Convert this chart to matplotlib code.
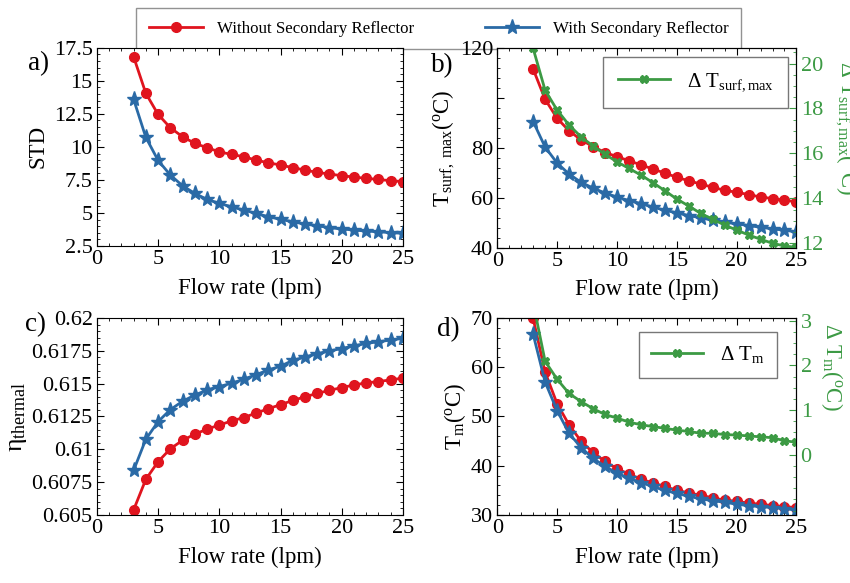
import matplotlib
matplotlib.use('Agg')
import matplotlib.pyplot as plt
from matplotlib.ticker import AutoMinorLocator, MultipleLocator

plt.rcParams['font.family'] = ['Liberation Serif', 'DejaVu Serif']
plt.rcParams['mathtext.fontset'] = 'custom'
plt.rcParams['mathtext.rm'] = 'Liberation Serif'
plt.rcParams['mathtext.it'] = 'Liberation Serif:italic'

# flow rate (lpm)
flow = list(range(3, 26))

# a) STD
std_without = [16.82, 14.05, 12.46, 11.45, 10.77, 10.27, 9.94, 9.63, 9.43, 9.26, 9.0, 8.8,
               8.63, 8.43, 8.25, 8.07, 7.95, 7.82, 7.72, 7.62, 7.54, 7.44, 7.37]
std_with = [13.6, 10.72, 8.98, 7.87, 7.06, 6.48, 6.03, 5.73, 5.47, 5.22, 4.97, 4.72,
            4.52, 4.34, 4.16, 4.04, 3.89, 3.79, 3.71, 3.63, 3.58, 3.51, 3.46]

# b) max surface temperature
tsurf_without = [111.5, 99.4, 91.8, 86.8, 83.2, 80.5, 78.1, 76.5, 74.8, 73.2, 71.5, 69.9,
                 68.2, 66.8, 65.5, 64.2, 63.0, 62.2, 61.3, 60.3, 59.7, 59.0, 58.4]
tsurf_with = [90.5, 80.3, 73.9, 69.5, 66.2, 63.9, 61.9, 60.3, 58.9, 57.7, 56.3, 55.0,
              54.0, 52.9, 52.0, 51.0, 50.2, 49.6, 48.9, 48.2, 47.6, 47.0, 46.4]
dtsurf = [20.67, 18.81, 17.93, 17.26, 16.74, 16.33, 15.96, 15.63, 15.33, 15.04, 14.7, 14.34,
          13.97, 13.66, 13.33, 13.07, 12.81, 12.59, 12.37, 12.18, 12.0, 11.88, 11.82]

# c) thermal efficiency
eta_without = [0.60539, 0.60772, 0.60906, 0.61004, 0.61069, 0.61115, 0.61154, 0.61185,
               0.61216, 0.61242, 0.61276, 0.61309, 0.61340, 0.61372, 0.61400, 0.61426,
               0.61449, 0.61470, 0.61490, 0.61506, 0.61516, 0.61529, 0.61542]
eta_with = [0.6084, 0.61077, 0.61211, 0.61302, 0.61366, 0.61413, 0.61452, 0.61478,
            0.61503, 0.61534, 0.61568, 0.61604, 0.61633, 0.61677, 0.61703, 0.61728,
            0.61749, 0.61767, 0.61788, 0.61806, 0.61819, 0.61832, 0.61845]

# d) mean temperature
tm_without = [69.9, 59.0, 52.6, 48.3, 45.0, 42.7, 40.9, 39.4, 38.3, 37.3, 36.5, 35.8,
              35.0, 34.5, 34.0, 33.5, 33.0, 32.8, 32.4, 32.2, 31.9, 31.7, 31.5]
tm_with = [66.7, 57.0, 51.2, 46.6, 43.7, 41.5, 39.9, 38.5, 37.5, 36.6, 35.8, 35.0,
           34.4, 33.8, 33.3, 32.9, 32.6, 32.2, 31.9, 31.7, 31.5, 31.3, 31.0]
dtm = [3.4, 2.09, 1.69, 1.37, 1.19, 1.03, 0.90, 0.82, 0.73, 0.67, 0.63, 0.59,
       0.55, 0.52, 0.48, 0.48, 0.45, 0.44, 0.42, 0.40, 0.38, 0.31, 0.28]

red = '#e0141e'
blue = '#2a6aa6'
green = '#3c9a44'
fs = 16.5
tfs = 16

fig = plt.figure(figsize=(8.5, 5.83), dpi=100)
ax_a = fig.add_axes([0.114, 0.578, 0.360, 0.340])
ax_b = fig.add_axes([0.585, 0.575, 0.352, 0.343])
ax_c = fig.add_axes([0.114, 0.1166, 0.360, 0.338])
ax_d = fig.add_axes([0.585, 0.1166, 0.352, 0.338])


def style(ax):
    ax.set_xlim(0, 25)
    ax.xaxis.set_major_locator(MultipleLocator(5))
    ax.xaxis.set_minor_locator(AutoMinorLocator(5))
    ax.yaxis.set_minor_locator(AutoMinorLocator(5))
    ax.tick_params(which='both', direction='in', top=True, right=True, labelsize=tfs, pad=3)
    ax.tick_params(which='major', length=5)
    ax.tick_params(which='minor', length=2.5)
    ax.set_xlabel('Flow rate (lpm)', fontsize=fs, labelpad=6)


def pair(ax, y1, y2):
    l1, = ax.plot(flow, y1, '-o', color=red, lw=2, ms=7, mec=red,
                  label='Without Secondary Reflector')
    l2, = ax.plot(flow, y2, '-*', color=blue, lw=2, ms=11, mec=blue,
                  label='With Secondary Reflector')
    return l1, l2


def right_axis(ax2, lo, hi, ticks):
    ax2.set_ylim(lo, hi)
    ax2.set_yticks(ticks)
    ax2.yaxis.set_minor_locator(AutoMinorLocator(4))
    ax2.tick_params(which='both', direction='in', colors=green, labelsize=tfs, pad=3)
    ax2.tick_params(which='major', length=5)
    ax2.tick_params(which='minor', length=2.5)


# a
h1, h2 = pair(ax_a, std_without, std_with)
style(ax_a)
ax_a.set_ylim(2.5, 17.5)
ax_a.set_yticks([2.5, 5, 7.5, 10, 12.5, 15, 17.5])
ax_a.set_yticklabels(['2.5', '5', '7.5', '10', '12.5', '15', '17.5'])
ax_a.set_ylabel('STD', fontsize=fs)

# b
pair(ax_b, tsurf_without, tsurf_with)
style(ax_b)
ax_b.tick_params(which='both', right=False)
ax_b.set_ylim(40, 120)
ax_b.set_yticks([40, 60, 80, 100, 120])
ax_b.set_yticklabels(['40', '60', '80', '', '120'])
ax_b.set_ylabel(r'T$_{\rm surf,\ max}$($^{\rm o}$C)', fontsize=fs, labelpad=2)
ax_b2 = ax_b.twinx()
ax_b2.plot(flow, dtsurf, '-X', color=green, lw=2, ms=6, label=r'$\Delta$ T$_{\rm surf,max}$')
right_axis(ax_b2, 11.8, 20.7, [12, 14, 16, 18, 20])
ax_b2.set_ylabel(r'$\Delta$ T$_{\rm surf,max}$($^{\rm o}$C)', color=green, fontsize=fs,
                 rotation=270, labelpad=26, y=0.6)
ax_b2.legend(loc='upper right', fontsize=fs - 1.5, frameon=True, fancybox=False,
             edgecolor='#555555', borderpad=0.7, handlelength=2.5, borderaxespad=0,
             bbox_to_anchor=(0.973, 0.955))

# c
pair(ax_c, eta_without, eta_with)
style(ax_c)
ax_c.set_ylim(0.605, 0.62)
ax_c.set_yticks([0.605, 0.6075, 0.61, 0.6125, 0.615, 0.6175, 0.62])
ax_c.set_yticklabels(['0.605', '0.6075', '0.61', '0.6125', '0.615', '0.6175', '0.62'])
ax_c.set_ylabel('η' + r'$_{\rm thermal}$', fontsize=fs + 2, labelpad=2)

# d
pair(ax_d, tm_without, tm_with)
style(ax_d)
ax_d.tick_params(which='both', right=False)
ax_d.set_ylim(30, 70)
ax_d.set_yticks([30, 40, 50, 60, 70])
ax_d.set_ylabel(r'T$_{\rm m}$($^{\rm o}$C)', fontsize=fs, labelpad=2)
ax_d2 = ax_d.twinx()
ax_d2.plot(flow, dtm, '-X', color=green, lw=2, ms=6, label=r'$\Delta$ T$_{\rm m}$')
right_axis(ax_d2, -1.35, 3.06, [0, 1, 2, 3])
ax_d2.set_ylabel(r'$\Delta$ T$_{\rm m}$($^{\rm o}$C)', color=green, fontsize=fs,
                 rotation=270, labelpad=24, y=0.75)
ax_d2.legend(loc='upper right', fontsize=fs - 1.5, frameon=True, fancybox=False,
             edgecolor='#555555', borderpad=0.6, handlelength=2.5, borderaxespad=0,
             bbox_to_anchor=(0.936, 0.929))

# panel letters
for ax, lab, xf, yf in [(ax_a, 'a)', -0.225, 0.92), (ax_b, 'b)', -0.22, 0.91),
                        (ax_c, 'c)', -0.235, 0.965), (ax_d, 'd)', -0.2, 0.94)]:
    ax.text(xf, yf, lab, transform=ax.transAxes, fontsize=fs + 3, va='center')

# shared legend on top
leg = fig.legend([h1, h2], ['Without Secondary Reflector', 'With Secondary Reflector'],
                 loc='upper center', bbox_to_anchor=(0.516, 0.995), ncol=2, fontsize=12.2,
                 frameon=True, fancybox=False, edgecolor='#777777', columnspacing=4.2,
                 handlelength=3.2, borderpad=0.75, borderaxespad=0.3)
leg.set_zorder(-1)

fig.savefig('out.png', dpi=100)
